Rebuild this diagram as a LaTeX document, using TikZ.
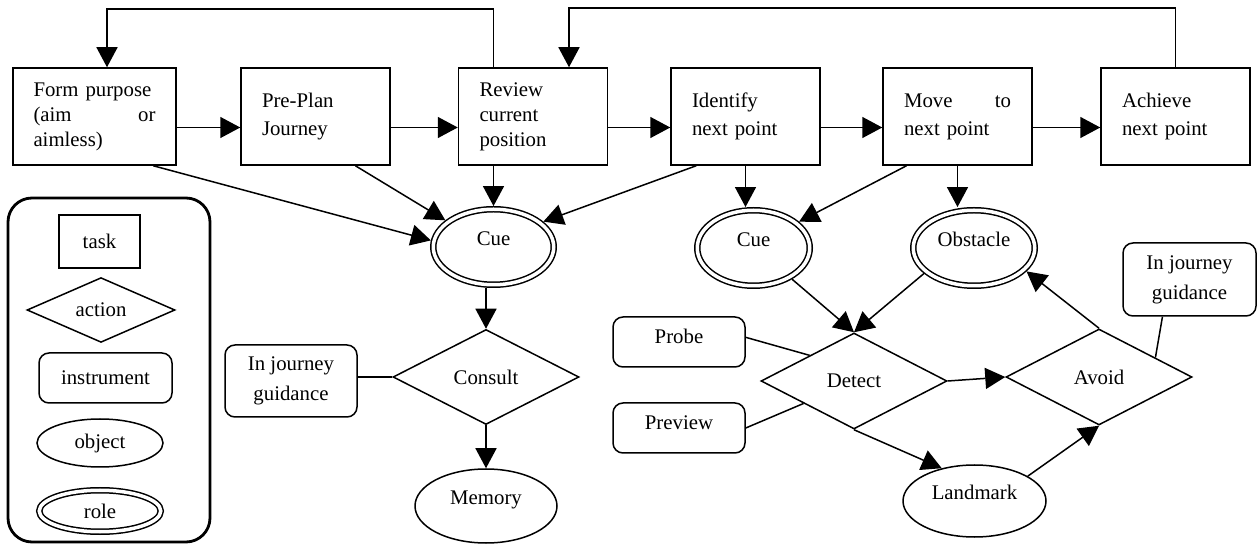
\documentclass[tikz,border=0pt]{standalone}
\usepackage{fontspec}
\setmainfont{Liberation Serif}
\usetikzlibrary{shapes.geometric,arrows.meta}

\begin{document}
\begin{tikzpicture}[x=0.5pt,y=-0.5pt,line width=0.75pt,
    font=\fontsize{10.4}{14}\selectfont,
    arr/.style={-{Triangle[length=10pt,width=10.5pt]}},
    taskbox/.style={draw,minimum height=48.5pt,text width=53.5pt,inner xsep=10.5pt,align=left},
    actionbox/.style={draw,diamond,inner sep=0pt},
    instr/.style={draw,rounded corners=5pt,inner sep=0pt,align=center,font=\fontsize{10.4}{15}\selectfont},
    objnode/.style={draw,ellipse,inner sep=0pt},
    rolenode/.style={draw,ellipse,double,double distance=1.75pt,inner sep=0pt,outer sep=1.6pt},
    lifted/.style={text height=7pt,text depth=8.4pt}]
    \useasboundingbox (0,0) rectangle (1257,544);
    \node[taskbox,text width=61pt,inner xsep=10.25pt,font=\fontsize{10.4}{12.5}\selectfont] (fp) at (94.5,116.5) {\mbox{Form purpose}\\(aim\hfill or\\aimless)};
    \node[taskbox] (pp) at (315.5,116.5) {Pre-Plan\\Journey\\[5pt]};
    \node[taskbox,font=\fontsize{10.4}{12.5}\selectfont] (rv) at (533,116.5) {Review\\current\\position};
    \node[taskbox] (id) at (745.5,116.5) {Identify\\next point\\[5pt]};
    \node[taskbox] (mv) at (957.5,116.5) {Move\hfill to\\next point\\[5pt]};
    \node[taskbox] (ac) at (1175.5,116.5) {Achieve\\next point\\[5pt]};
    \node[rolenode,lifted,minimum width=60.25pt,minimum height=37.75pt] (c1) at (493.5,247) {Cue};
    \node[actionbox,minimum width=93pt,minimum height=47.5pt] (cs) at (486,377) {Consult};
    \node[objnode,lifted,minimum width=71pt,minimum height=37pt] (mm) at (486,506) {Memory};
    \node[instr,minimum width=66pt,minimum height=36pt] (ig1) at (291,381) {In journey\\guidance};
    \node[rolenode,lifted,minimum width=56.25pt,minimum height=37.75pt] (c2) at (753.5,248) {Cue};
    \node[rolenode,lifted,minimum width=60.75pt,minimum height=37.75pt] (ob) at (974,248) {Obstacle};
    \node[actionbox,minimum width=93pt,minimum height=48pt] (dt) at (854,381) {Detect};
    \node[actionbox,minimum width=93pt,minimum height=48pt] (av) at (1099,377) {Avoid};
    \node[instr,minimum width=66.5pt,minimum height=36.5pt] (ig2) at (1189.5,279.5) {In journey\\guidance};
    \node[instr,text height=7pt,text depth=5.4pt,minimum width=66pt,minimum height=25pt] (pr) at (679,342) {Probe};
    \node[instr,text height=7pt,text depth=5.4pt,minimum width=66pt,minimum height=25pt] (pv) at (679,428) {Preview};
    \node[objnode,lifted,minimum width=71.5pt,minimum height=36pt] (lm) at (974.5,501) {Landmark};
    \draw[line width=1.4pt,rounded corners=12pt] (8,198) rectangle (210,542);
    \node[draw,minimum width=40.5pt,minimum height=26.5pt] (lt) at (99.5,241.5) {task};
    \node[actionbox,minimum width=74pt,minimum height=29pt] (la) at (101,310) {action};
    \node[instr,minimum width=66.5pt,minimum height=25pt] (li) at (105.5,378) {instrument};
    \node[objnode,minimum width=63pt,minimum height=24pt] (lo) at (100,443) {object};
    \node[rolenode,minimum width=60.75pt,minimum height=20.75pt] (lr) at (100,511) {role};
    \coordinate (t1) at (107,9);
    \coordinate (t2) at (569,8);
    \draw[arr] ([yshift=-5.5pt]fp.east) -- ([yshift=-5.5pt]pp.west);
    \draw[arr] ([yshift=-5.5pt]pp.east) -- ([yshift=-5.5pt]rv.west);
    \draw[arr] ([yshift=-5.5pt]rv.east) -- ([yshift=-5.5pt]id.west);
    \draw[arr] ([yshift=-5.5pt]id.east) -- ([yshift=-5.5pt]mv.west);
    \draw[arr] ([yshift=-5.5pt]mv.east) -- ([yshift=-5.5pt]ac.west);
    \draw[arr] (c1 |- rv.north) |- (t1) -- (fp.north -| t1);
    \draw[arr] (ac.north) |- (t2) -- (rv.north -| t2);
    \draw[arr] (fp.-40) -- (c1.174);
    \draw[arr] (pp.-51) -- (c1.151);
    \draw[arr] (c1 |- rv.south) -- (c1.north);
    \draw[arr] (id.-135) -- (c1.27);
    \draw[arr] (cs.north |- c1.south) -- (cs.north);
    \draw[arr] (cs.south) -- (mm.north);
    \draw (cs.west -| ig1.east) -- (cs.west);
    \draw[arr] (id.south) -- (c2.north -| id.south);
    \draw[arr] (mv.-136) -- (c2.30);
    \draw[arr] (mv.south) -- (ob.north -| mv.south);
    \draw[arr] (c2.-39) -- (dt.north);
    \draw[arr] (ob.-153) -- (dt.north);
    \draw (pr.4) -- (dt.150);
    \draw (pv.east) -- (dt.-156);
    \draw[arr] (dt.east) -- (av.west);
    \draw[arr] (dt.south) -- (lm.135);
    \draw[arr] (lm.25) -- (av.south);
    \draw[arr] (av.north) -- (ob.-24);
    \draw (ig2.-126) -- (av.19);
\end{tikzpicture}
\end{document}
